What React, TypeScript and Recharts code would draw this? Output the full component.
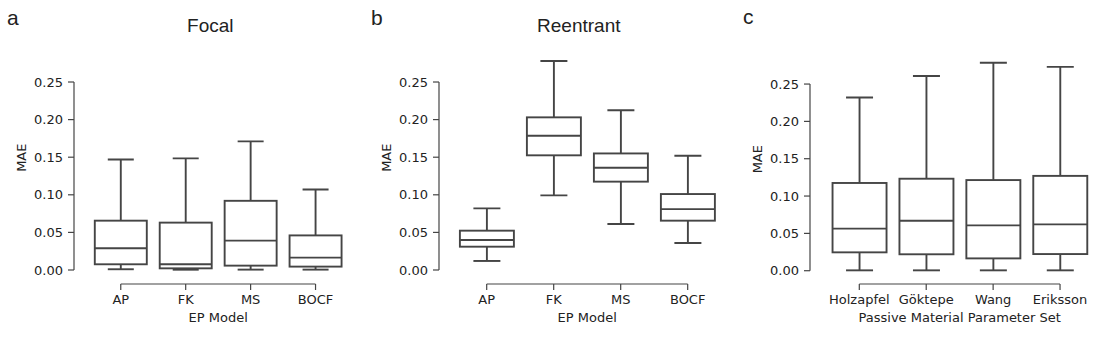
import { ComposedChart, Bar, XAxis, YAxis, ReferenceLine } from 'recharts';

const LINE = '#454545';
const TEXT = '#222';
const TICK_FONT = '"DejaVu Sans", sans-serif';
const HEAD_FONT = '"Liberation Sans", Arial, sans-serif';

const yTicks = [0, 0.05, 0.1, 0.15, 0.2, 0.25];

// a: Focal
const focalCats = ['AP', 'FK', 'MS', 'BOCF'];
const focalMin = [0.001, 0.0004, 0.0005, 0.0005];
const focalQ1 = [0.0076, 0.0022, 0.0058, 0.0045];
const focalMed = [0.0289, 0.0076, 0.039, 0.0164];
const focalQ3 = [0.0656, 0.063, 0.092, 0.046];
const focalMax = [0.147, 0.1485, 0.171, 0.107];

// b: Reentrant
const reentrantCats = ['AP', 'FK', 'MS', 'BOCF'];
const reentrantMin = [0.012, 0.0993, 0.0612, 0.0359];
const reentrantQ1 = [0.031, 0.1525, 0.1175, 0.0656];
const reentrantMed = [0.0399, 0.1786, 0.136, 0.081];
const reentrantQ3 = [0.0523, 0.203, 0.155, 0.101];
const reentrantMax = [0.082, 0.278, 0.2124, 0.152];

// c: passive material parameter sets
const passiveCats = ['Holzapfel', 'Göktepe', 'Wang', 'Eriksson'];
const passiveMin = [0.0005, 0.0005, 0.0005, 0.0005];
const passiveQ1 = [0.0246, 0.022, 0.0165, 0.0223];
const passiveMed = [0.0563, 0.067, 0.0607, 0.062];
const passiveQ3 = [0.1175, 0.1232, 0.1214, 0.127];
const passiveMax = [0.232, 0.2607, 0.2786, 0.273];

interface BoxRow {
  cat: string;
  min: number;
  q1: number;
  med: number;
  q3: number;
  max: number;
}

function buildRows(cats: string[], mins: number[], q1s: number[], meds: number[], q3s: number[], maxs: number[]): BoxRow[] {
  return cats.map((cat, i) => ({ cat, min: mins[i], q1: q1s[i], med: meds[i], q3: q3s[i], max: maxs[i] }));
}

function BoxShape(props: any) {
  const { x, y, width, height, payload } = props;
  if (!payload) return null;
  const top = Math.min(y, y + height);
  const h = Math.abs(height);
  const span = payload.max - payload.min || 1;
  const py = (v: number) => top + (h * (payload.max - v)) / span;
  const cx = x + width / 2;
  const cap = width / 4;
  return (
    <g stroke={LINE} strokeWidth={1.9} fill="none">
      <line x1={cx} x2={cx} y1={py(payload.max)} y2={py(payload.q3)} />
      <line x1={cx} x2={cx} y1={py(payload.q1)} y2={py(payload.min)} />
      <line x1={cx - cap} x2={cx + cap} y1={py(payload.max)} y2={py(payload.max)} />
      <line x1={cx - cap} x2={cx + cap} y1={py(payload.min)} y2={py(payload.min)} />
      <rect x={x} y={py(payload.q3)} width={width} height={py(payload.q1) - py(payload.q3)} fill="#fff" />
      <line x1={x} x2={x + width} y1={py(payload.med)} y2={py(payload.med)} />
    </g>
  );
}

interface PanelProps {
  rows: BoxRow[];
  left: number;
  width: number;
  axisWidth: number;
  pad: number;
  top: number;
  domain: [number, number];
  xLabel: string;
}

function BoxPanel({ rows, left, width, axisWidth, pad, top, domain, xLabel }: PanelProps) {
  const first = rows[0].cat;
  const last = rows[rows.length - 1].cat;
  return (
    <div style={{ position: 'absolute', left, top: 0 }}>
      <ComposedChart
        width={width}
        height={338}
        data={rows}
        margin={{ top, right: 2, bottom: 15, left: 0 }}
        barCategoryGap="10%"
      >
        <XAxis
          dataKey="cat"
          padding={{ left: pad, right: 0 }}
          axisLine={false}
          tickLine={{ stroke: LINE, strokeWidth: 1.2 }}
          tickSize={6}
          tickMargin={5}
          height={39}
          interval={0}
          tick={{ fill: TEXT, fontSize: 13, fontFamily: TICK_FONT }}
          label={({ viewBox }: any) => (
            <text
              x={viewBox.x + pad + (viewBox.width - pad) / 2}
              y={viewBox.y + viewBox.height - 1}
              textAnchor="middle"
              fill={TEXT}
              fontSize={13}
              fontFamily={TICK_FONT}
            >
              {xLabel}
            </text>
          )}
        />
        <XAxis xAxisId="frame" type="number" domain={[0, 1]} allowDataOverflow hide />
        <YAxis
          type="number"
          domain={domain}
          allowDataOverflow
          ticks={yTicks}
          interval={0}
          width={axisWidth}
          axisLine={false}
          tickLine={{ stroke: LINE, strokeWidth: 1.2 }}
          tickSize={6}
          tickMargin={5}
          tickFormatter={(v: number) => v.toFixed(2)}
          tick={{ fill: TEXT, fontSize: 13, fontFamily: TICK_FONT }}
          label={({ viewBox }: any) => {
            const cx = viewBox.x + viewBox.width - 52.5;
            const cy = viewBox.y + viewBox.height / 2;
            return (
              <text
                x={cx}
                y={cy}
                transform={`rotate(-90, ${cx}, ${cy})`}
                textAnchor="middle"
                dominantBaseline="central"
                fill={TEXT}
                fontSize={13}
                fontFamily={TICK_FONT}
              >
                MAE
              </text>
            );
          }}
        />
        <ReferenceLine
          xAxisId="frame"
          segment={[{ x: 0, y: 0 }, { x: 0, y: 0.25 }]}
          stroke={LINE}
          strokeWidth={1.2}
          ifOverflow="visible"
        />
        <ReferenceLine
          segment={[{ x: first, y: domain[0] }, { x: last, y: domain[0] }]}
          stroke={LINE}
          strokeWidth={1.2}
          ifOverflow="visible"
        />
        <Bar
          dataKey={(d: BoxRow) => [d.min, d.max]}
          shape={BoxShape}
          isAnimationActive={false}
        />
      </ComposedChart>
    </div>
  );
}

export default function App() {
  const focalRows = buildRows(focalCats, focalMin, focalQ1, focalMed, focalQ3, focalMax);
  const reentrantRows = buildRows(reentrantCats, reentrantMin, reentrantQ1, reentrantMed, reentrantQ3, reentrantMax);
  const passiveRows = buildRows(passiveCats, passiveMin, passiveQ1, passiveMed, passiveQ3, passiveMax);

  return (
    <div style={{ position: 'absolute', left: 0, top: 0, width: 1100, height: 338, background: '#fff', overflow: 'hidden' }}>
      <BoxPanel
        rows={focalRows}
        left={0}
        width={350}
        axisWidth={74}
        pad={14.3}
        top={31.4}
        domain={[-0.01862, 0.3173]}
        xLabel="EP Model"
      />
      <BoxPanel
        rows={reentrantRows}
        left={365}
        width={358.2}
        axisWidth={74}
        pad={14.2}
        top={31.4}
        domain={[-0.01862, 0.3173]}
        xLabel="EP Model"
      />
      <BoxPanel
        rows={passiveRows}
        left={730}
        width={365.5}
        axisWidth={80}
        pad={15.85}
        top={34.4}
        domain={[-0.0178, 0.3165]}
        xLabel="Passive Material Parameter Set"
      />
      <svg width={1100} height={338} style={{ position: 'absolute', left: 0, top: 0, pointerEvents: 'none' }}>
        <g fill={TEXT} fontFamily={HEAD_FONT}>
          <text x={7} y={24.5} fontSize={21}>a</text>
          <text x={371} y={25} fontSize={21}>b</text>
          <text x={743} y={24} fontSize={21}>c</text>
          <text x={210.3} y={32} fontSize={19} textAnchor="middle">Focal</text>
          <text x={578.8} y={32} fontSize={19} textAnchor="middle">Reentrant</text>
        </g>
      </svg>
    </div>
  );
}
